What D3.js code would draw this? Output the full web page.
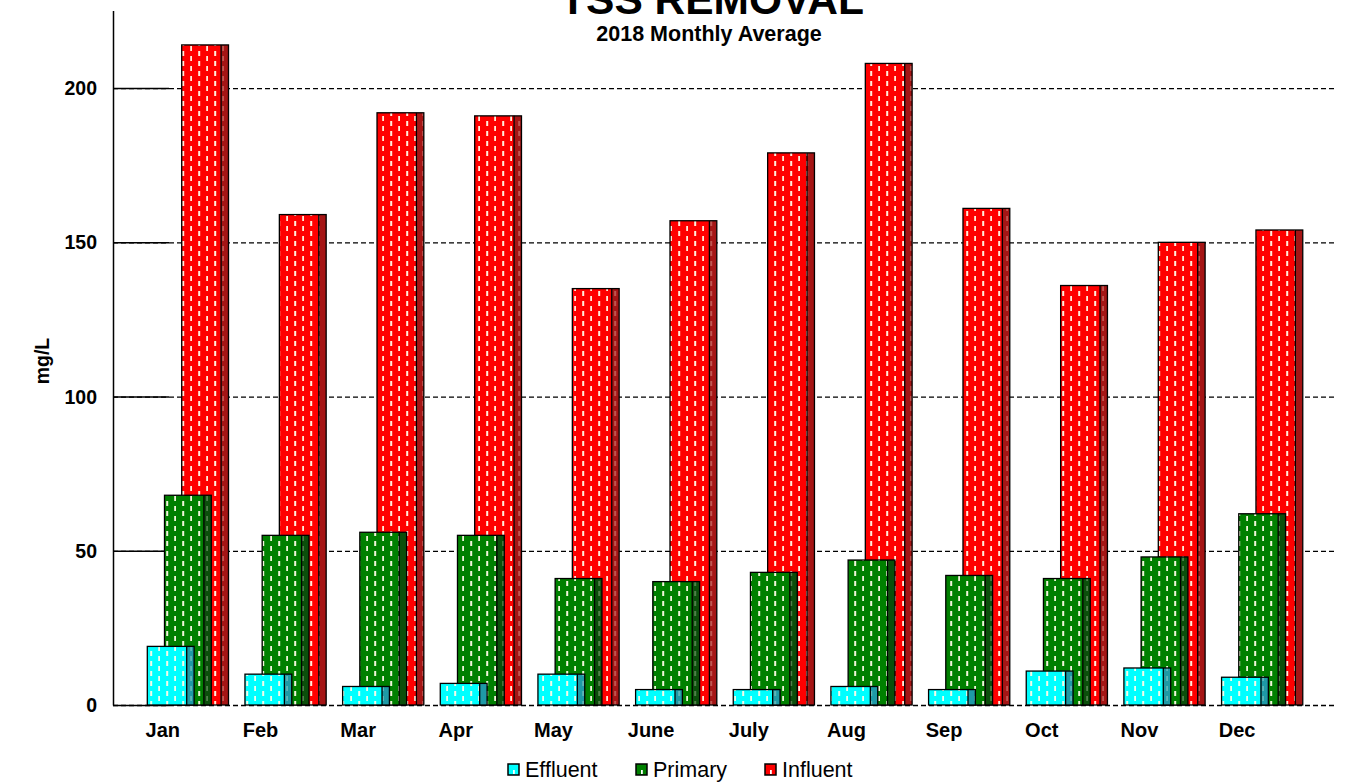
<!DOCTYPE html>
<html>
<head>
<meta charset="utf-8">
<script src="https://cdn.jsdelivr.net/npm/d3@7"></script>
<style>
  html, body { margin: 0; padding: 0; background: #fff; }
  svg { display: block; font-family: "Liberation Sans", Arial, sans-serif; }
</style>
</head>
<body>
<svg id="chart" width="1348" height="783"></svg>
<script>
const months = ["Jan","Feb","Mar","Apr","May","June","July","Aug","Sep","Oct","Nov","Dec"];
const effluent = [19, 10, 6, 7, 10, 5, 5, 6, 5, 11, 12, 9];
const primary  = [68, 55, 56, 55, 41, 40, 43, 47, 42, 41, 48, 62];
const influent = [214, 159, 192, 191, 135, 157, 179, 208, 161, 136, 150, 154];
const yTicks = [0, 50, 100, 150, 200];
const seriesNames = ["Effluent", "Primary", "Influent"];

const series = [
  {name: seriesNames[0], values: effluent, front: "#00ffff", side: "#1e9aa6", idx: 0},
  {name: seriesNames[1], values: primary,  front: "#008000", side: "#0b4f0b", idx: 1},
  {name: seriesNames[2], values: influent, front: "#ff0000", side: "#a51515", idx: 2}
];

const svg = d3.select("#chart");
const axisX = 113, plotRight = 1337;

const x = d3.scaleBand().domain(months).range([113, 113 + 12 * 97.66]).padding(0);
const y = d3.scaleLinear().domain([0, 225]).range([705, 11]);

const groupOffset = 34.3, seriesStep = 17.2, frontW = 39.4, sideW = 7.4;

// patterns
const defs = svg.append("defs");
series.forEach((s, i) => {
  const p = defs.append("pattern").attr("id", "pat" + i)
    .attr("patternUnits", "userSpaceOnUse").attr("width", 16).attr("height", 10);
  p.append("rect").attr("x", 6.2).attr("y", 1).attr("width", 2).attr("height", 5).attr("fill", "#fffbe6").attr("opacity", 0.95);
  p.append("rect").attr("x", 14.2).attr("y", 6).attr("width", 2).attr("height", 5).attr("fill", "#fffbe6").attr("opacity", 0.95);
  p.append("rect").attr("x", 14.2).attr("y", -4).attr("width", 2).attr("height", 5).attr("fill", "#fffbe6").attr("opacity", 0.95);
});

// gridlines
const grid = svg.append("g");
yTicks.forEach(t => {
  grid.append("line").attr("x1", axisX).attr("x2", plotRight)
    .attr("y1", y(t) + 0.5).attr("y2", y(t) + 0.5)
    .attr("stroke", "#000").attr("stroke-width", 1.3).attr("stroke-dasharray", "5,3");
  grid.append("line").attr("x1", axisX).attr("x2", 169)
    .attr("y1", y(t) + 0.5).attr("y2", y(t) + 0.5)
    .attr("stroke", "#000").attr("stroke-width", 1.5);
});

// y axis line
svg.append("line").attr("x1", axisX + 0.5).attr("x2", axisX + 0.5).attr("y1", y(225)).attr("y2", y(0) + 0.5)
  .attr("stroke", "#000").attr("stroke-width", 1.5);

// tick labels
svg.append("g").selectAll("text").data(yTicks).join("text")
  .attr("x", 97).attr("y", d => y(d) + 7)
  .attr("text-anchor", "end").attr("font-size", 19.5).attr("font-weight", "bold").text(d => d);

// bars: draw influent first (back), then primary, then effluent
const bars = svg.append("g");
[2, 1, 0].forEach(si => {
  const s = series[si];
  const g = bars.append("g");
  months.forEach((m, mi) => {
    const v = s.values[mi];
    const x0 = x(m) + groupOffset + si * seriesStep;
    const yt = y(v), yb = y(0);
    g.append("rect").attr("x", x0).attr("y", yt).attr("width", frontW).attr("height", yb - yt)
      .attr("fill", s.front);
    g.append("rect").attr("x", x0).attr("y", yt).attr("width", frontW).attr("height", yb - yt)
      .attr("fill", "url(#pat" + si + ")");
    g.append("rect").attr("x", x0 + frontW).attr("y", yt).attr("width", sideW).attr("height", yb - yt)
      .attr("fill", s.side);
    g.append("rect").attr("x", x0 + frontW).attr("y", yt).attr("width", sideW).attr("height", yb - yt)
      .attr("fill", "url(#pat" + si + ")").attr("opacity", 0.3);
    g.append("rect").attr("x", x0).attr("y", yt).attr("width", frontW + sideW).attr("height", yb - yt)
      .attr("fill", "none").attr("stroke", "#000").attr("stroke-width", 1.3);
    g.append("line").attr("x1", x0 + frontW).attr("x2", x0 + frontW).attr("y1", yt).attr("y2", yb)
      .attr("stroke", "#000").attr("stroke-width", 1.3);
  });
});

// x labels
svg.append("g").selectAll("text").data(months).join("text")
  .attr("x", d => x(d) + x.bandwidth() / 2 + 1).attr("y", 737)
  .attr("text-anchor", "middle").attr("font-size", 20).attr("font-weight", "bold").text(d => d);

// titles
svg.append("text").attr("x", 712).attr("y", 14).attr("text-anchor", "middle")
  .attr("font-size", 42.5).attr("font-weight", "bold").text("TSS REMOVAL");
svg.append("text").attr("x", 709).attr("y", 41).attr("text-anchor", "middle")
  .attr("font-size", 21.5).attr("font-weight", "bold").text("2018 Monthly Average");

// y label
svg.append("text").attr("transform", "translate(49,361) rotate(-90)")
  .attr("text-anchor", "middle").attr("font-size", 19.5).attr("font-weight", "bold").text("mg/L");

// legend
const legX = [508, 636, 765];
const leg = svg.append("g");
series.forEach((s, i) => {
  leg.append("rect").attr("x", legX[i]).attr("y", 764).attr("width", 11).attr("height", 11)
    .attr("fill", s.front).attr("stroke", "#000").attr("stroke-width", 1.5);
  leg.append("rect").attr("x", legX[i] + 5).attr("y", 770).attr("width", 1.8).attr("height", 4)
    .attr("fill", "#fff");
  leg.append("text").attr("x", legX[i] + 17).attr("y", 777).attr("font-size", 21.5).text(s.name);
});
</script>
</body>
</html>
